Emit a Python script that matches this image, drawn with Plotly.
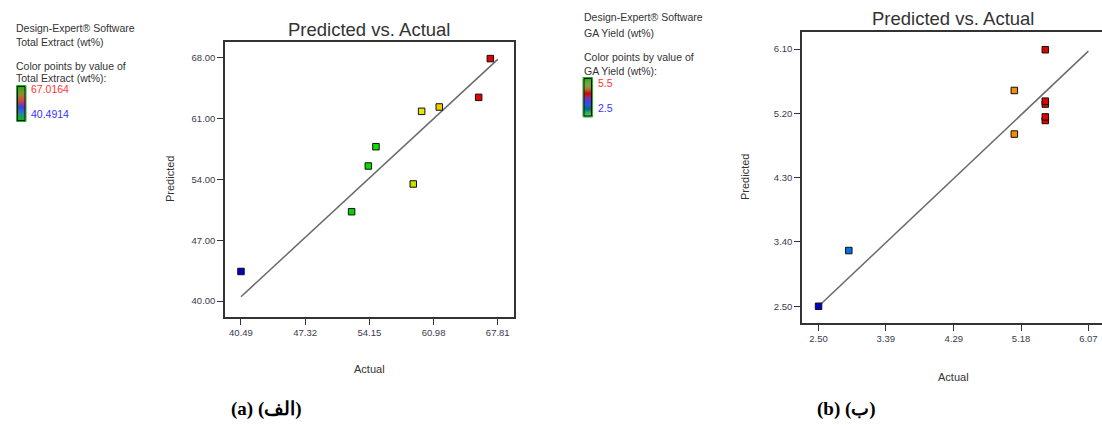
import plotly.graph_objects as go

W, H = 1102, 425

# ---- data: panel (a) Total Extract ----
actual_a = [40.49, 52.26, 54.04, 54.85, 58.82, 59.71, 61.59, 65.78, 67.02]
pred_a = [43.40, 50.28, 55.54, 57.76, 53.47, 61.83, 62.33, 63.44, 67.90]
xticks_a = [40.49, 47.32, 54.15, 60.98, 67.81]
yticks_a = [40.00, 47.00, 54.00, 61.00, 68.00]
range_a = [40.4914, 67.0164]

# ---- data: panel (b) GA Yield ----
actual_b = [2.50, 2.90, 5.09, 5.09, 5.50, 5.50, 5.50, 5.50, 5.50]
pred_b = [2.50, 3.28, 4.91, 5.52, 5.10, 5.15, 5.33, 5.37, 6.09]
xticks_b = [2.50, 3.39, 4.29, 5.18, 6.07]
yticks_b = [2.50, 3.40, 4.30, 5.20, 6.10]
range_b = [2.5, 5.5]

# blue -> green -> yellow -> red point colouring
point_scale = [
    [0.00, "#0000c8"], [0.15, "#0080e8"], [0.30, "#00b8b0"],
    [0.42, "#00d000"], [0.56, "#10e000"], [0.68, "#c0e000"],
    [0.74, "#f0e800"], [0.80, "#f8c800"], [0.88, "#f08000"],
    [0.95, "#e80000"], [1.00, "#e00000"],
]

FONT = "Liberation Sans, Arial, sans-serif"
TXT = "#333333"


def px(x):
    return x / W


def py(y):
    return 1 - y / H


fig = go.Figure()

# panel (a)
fig.add_trace(go.Scatter(
    x=[xticks_a[0], xticks_a[-1]], y=[xticks_a[0], xticks_a[-1]],
    mode="lines", line=dict(color="#6a6a6a", width=1.5),
    xaxis="x", yaxis="y", hoverinfo="skip", showlegend=False))
fig.add_trace(go.Scatter(
    x=actual_a, y=pred_a, mode="markers", xaxis="x", yaxis="y",
    marker=dict(symbol="square", size=6.5, color=actual_a,
                colorscale=point_scale, cmin=range_a[0], cmax=range_a[1],
                line=dict(color="#111111", width=1)),
    showlegend=False))

# panel (b)
fig.add_trace(go.Scatter(
    x=[xticks_b[0], xticks_b[-1]], y=[xticks_b[0], xticks_b[-1]],
    mode="lines", line=dict(color="#6a6a6a", width=1.5),
    xaxis="x2", yaxis="y2", hoverinfo="skip", showlegend=False))
fig.add_trace(go.Scatter(
    x=actual_b, y=pred_b, mode="markers", xaxis="x2", yaxis="y2",
    marker=dict(symbol="square", size=6.5, color=actual_b,
                colorscale=point_scale, cmin=range_b[0], cmax=range_b[1],
                line=dict(color="#111111", width=1)),
    showlegend=False))

axis_common = dict(
    showgrid=False, zeroline=False, showline=True, linecolor="#333333",
    linewidth=1.5, ticks="outside", ticklen=6, tickwidth=1.2,
    tickcolor="#333333", tickfont=dict(family=FONT, size=9.5, color="#3a3a4a"),
)

fig.update_layout(
    width=W, height=H, margin=dict(l=0, r=0, t=0, b=0),
    paper_bgcolor="white", plot_bgcolor="white", showlegend=False,
    xaxis=dict(domain=[px(225), px(514)], range=[38.79, 69.54],
               tickvals=xticks_a, ticktext=[f"{v:.2f}" for v in xticks_a],
               mirror=True, anchor="y", **axis_common),
    yaxis=dict(domain=[py(317), py(42)], range=[38.16, 69.81],
               tickvals=yticks_a, ticktext=[f"{v:.2f}" for v in yticks_a],
               mirror=True, anchor="x", **axis_common),
    xaxis2=dict(domain=[px(802), 1.0], range=[2.281, 6.25],
                tickvals=xticks_b, ticktext=[f"{v:.2f}" for v in xticks_b],
                mirror=True, anchor="y2", **axis_common),
    yaxis2=dict(domain=[py(323), py(32)], range=[2.266, 6.338],
                tickvals=yticks_b, ticktext=[f"{v:.2f}" for v in yticks_b],
                mirror=False, anchor="x2", **axis_common),
)

annotations = []


def text(x, y, s, size=10.5, color=TXT, xanchor="left", angle=0, family=FONT, bold=False):
    if bold:
        s = f"<b>{s}</b>"
    annotations.append(dict(
        x=px(x), y=py(y), xref="paper", yref="paper", text=s, showarrow=False,
        xanchor=xanchor, yanchor="middle", textangle=angle,
        font=dict(family=family, size=size, color=color)))


# titles
text(369, 30, "Predicted vs. Actual", size=18.5, xanchor="center")
text(953, 19, "Predicted vs. Actual", size=18.5, xanchor="center")

# axis titles
text(369, 369, "Actual", size=11, xanchor="center")
text(170, 179, "Predicted", size=11, xanchor="center", angle=-90)
text(953, 377, "Actual", size=11, xanchor="center")
text(745, 177, "Predicted", size=11, xanchor="center", angle=-90)

# side information blocks
text(14, 28, "Design-Expert® Software")
text(14, 42, "Total Extract (wt%)")
text(14, 66, "Color points by value of")
text(14, 78, "Total Extract (wt%):")
text(29, 89, "67.0164", color="#ff3333")
text(29, 114, "40.4914", color="#3333ff")

text(582, 17, "Design-Expert® Software")
text(582, 33, "GA Yield (wt%)")
text(582, 57, "Color points by value of")
text(582, 71, "GA Yield (wt%):")
text(596, 83, "5.5", color="#ff3333")
text(596, 108, "2.5", color="#3333ff")

# captions
text(266, 409, "(a) (الف)", size=19, xanchor="center",
     family="Liberation Serif, DejaVu Serif, serif", color="#000000", bold=True)
text(846, 409, "(b) (ب)", size=19, xanchor="center",
     family="Liberation Serif, DejaVu Serif, serif", color="#000000", bold=True)

fig.update_layout(annotations=annotations)

# colour key bars
bar_stops = [
    (0.00, (0, 190, 0)), (0.25, (120, 110, 0)), (0.42, (220, 0, 0)),
    (0.52, (90, 0, 120)), (0.62, (0, 0, 230)), (0.78, (0, 100, 150)),
    (1.00, (0, 190, 0)),
]


def lerp_color(t):
    for (t0, c0), (t1, c1) in zip(bar_stops[:-1], bar_stops[1:]):
        if t0 <= t <= t1:
            f = (t - t0) / (t1 - t0) if t1 > t0 else 0
            return "rgb(%d,%d,%d)" % tuple(round(a + (b - a) * f) for a, b in zip(c0, c1))
    return "rgb(0,190,0)"


shapes = []


def color_bar(x0, x1, y0, y1, n=36):
    h = (y1 - y0) / n
    for i in range(n):
        shapes.append(dict(
            type="rect", xref="paper", yref="paper",
            x0=px(x0), x1=px(x1), y0=py(y0 + (i + 1) * h), y1=py(y0 + i * h),
            fillcolor=lerp_color((i + 0.5) / n), line=dict(width=0), layer="above"))
    shapes.append(dict(
        type="rect", xref="paper", yref="paper",
        x0=px(x0 - 0.5), x1=px(x1 + 0.5), y0=py(y1 + 0.5), y1=py(y0 - 0.5),
        line=dict(color="#20b020", width=1), layer="above"))
    shapes.append(dict(
        type="rect", xref="paper", yref="paper",
        x0=px(x0 + 0.5), x1=px(x1 - 0.5), y0=py(y1 - 0.5), y1=py(y0 + 0.5),
        line=dict(color="#111111", width=1), layer="above"))


color_bar(17, 25.5, 86, 121)
color_bar(583.5, 592, 78, 116.5)

fig.update_layout(shapes=shapes)

fig.write_html("out.html")
